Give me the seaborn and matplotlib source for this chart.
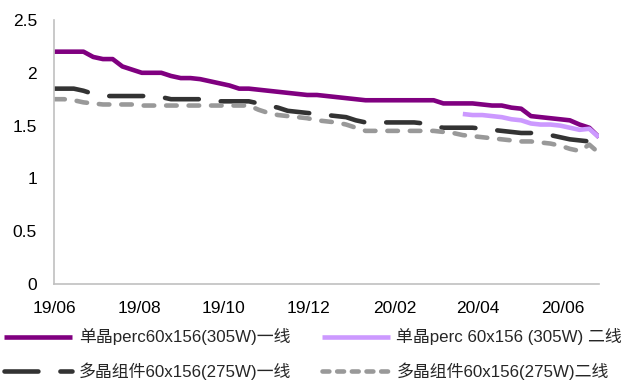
import numpy as np
import pandas as pd
import matplotlib
matplotlib.use("Agg")
import matplotlib.pyplot as plt
import matplotlib.dates as mdates
from matplotlib.lines import Line2D
from matplotlib.font_manager import FontProperties
import seaborn as sns

# Weekly module prices (RMB/W)
dates = pd.date_range("2019-06-05", periods=57, freq="7D")

mono_tier1 = [2.20, 2.20, 2.20, 2.20, 2.15, 2.13, 2.13, 2.06, 2.03, 2.00,
              2.00, 2.00, 1.97, 1.95, 1.95, 1.94, 1.92, 1.90, 1.88, 1.85,
              1.85, 1.84, 1.83, 1.82, 1.81, 1.80, 1.79, 1.79, 1.78, 1.77,
              1.76, 1.75, 1.74, 1.74, 1.74, 1.74, 1.74, 1.74, 1.74, 1.74,
              1.71, 1.71, 1.71, 1.71, 1.70, 1.69, 1.69, 1.67, 1.66, 1.59,
              1.58, 1.57, 1.56, 1.55, 1.51, 1.48, 1.39]

mono_tier2 = [np.nan] * 42 + [1.61, 1.60, 1.60, 1.59, 1.58, 1.56, 1.55, 1.52,
                              1.51, 1.51, 1.50, 1.48, 1.46, 1.47, 1.39]

poly_tier1 = [1.85, 1.85, 1.85, 1.83, 1.80, 1.78, 1.78, 1.78, 1.78, 1.78,
              1.78, 1.77, 1.75, 1.75, 1.75, 1.75, 1.74, 1.73, 1.73, 1.73,
              1.73, 1.71, 1.69, 1.67, 1.64, 1.63, 1.62, 1.61, 1.60, 1.59,
              1.58, 1.55, 1.53, 1.53, 1.53, 1.53, 1.53, 1.53, 1.52, 1.49,
              1.48, 1.48, 1.48, 1.48, 1.47, 1.46, 1.45, 1.44, 1.43, 1.43,
              1.42, 1.41, 1.39, 1.37, 1.36, 1.35, np.nan]

poly_tier2 = [1.75, 1.75, 1.74, 1.72, 1.71, 1.70, 1.70, 1.70, 1.70, 1.69,
              1.69, 1.69, 1.69, 1.69, 1.69, 1.69, 1.69, 1.69, 1.69, 1.69,
              1.69, 1.65, 1.62, 1.60, 1.59, 1.58, 1.57, 1.55, 1.54, 1.53,
              1.51, 1.48, 1.45, 1.45, 1.45, 1.45, 1.45, 1.45, 1.45, 1.45,
              1.44, 1.43, 1.41, 1.40, 1.39, 1.38, 1.37, 1.36, 1.35, 1.35,
              1.34, 1.33, 1.31, 1.28, 1.26, 1.32, 1.24]

series_labels = ["单晶perc60x156(305W)一线", "单晶perc 60x156 (305W) 二线",
                 "多晶组件60x156(275W)一线", "多晶组件60x156(275W)二线"]

y_ticks = [0, 0.5, 1, 1.5, 2, 2.5]
y_tick_labels = ["0", "0.5", "1", "1.5", "2", "2.5"]
x_tick_dates = pd.to_datetime(["2019-06-05", "2019-08-05", "2019-10-05", "2019-12-05",
                               "2020-02-05", "2020-04-05", "2020-06-05"])

sns.set_style("white")
plt.rcParams["font.family"] = ["Liberation Sans", "Noto Sans CJK SC"]

W, H = 627, 381
fig = plt.figure(figsize=(W / 100, H / 100), dpi=100)
ax = fig.add_axes([54.3 / W, (H - 284) / H, (599 - 54.3) / W, (284 - 20) / H])

lw = 3.3
styles = [
    dict(color="#800080", linestyle="-", solid_capstyle="butt"),
    dict(color="#CC99FF", linestyle="-", solid_capstyle="butt"),
    dict(color="#333333", linestyle=(0, (7.4, 4.8)), dash_capstyle="round"),
    dict(color="#999999", linestyle=(0, (2.3, 2.6)), dash_capstyle="round"),
]
all_series = [mono_tier1, mono_tier2, poly_tier1, poly_tier2]

df = pd.DataFrame({"date": dates})
for name, vals in zip(series_labels, all_series):
    df[name] = vals

for name, st in zip(series_labels, styles):
    sub = df[["date", name]].dropna()
    sns.lineplot(data=sub, x="date", y=name, ax=ax, linewidth=lw,
                 estimator=None, legend=False, **st)

ax.set_xlim(dates[0], dates[-1])
ax.set_ylim(0, 2.5)
ax.set_yticks(y_ticks)
ax.set_yticklabels(y_tick_labels)
ax.set_xticks(x_tick_dates)
ax.xaxis.set_major_formatter(mdates.DateFormatter("%y/%m"))
ax.set_xlabel("")
ax.set_ylabel("")

for side in ["top", "right"]:
    ax.spines[side].set_visible(False)
for side in ["left", "bottom"]:
    ax.spines[side].set_color("#c0c0c0")
    ax.spines[side].set_linewidth(1.2)

ax.tick_params(axis="both", direction="in", length=4.5, width=1.2,
               color="#c0c0c0", labelsize=12.5, labelcolor="black")
ax.tick_params(axis="y", pad=12.5)
ax.tick_params(axis="x", pad=12)
ax.grid(False)

# Legend handles (the short-dash style is drawn tighter in the legend)
handles = [
    Line2D([], [], color="#800080", lw=lw, solid_capstyle="butt"),
    Line2D([], [], color="#CC99FF", lw=lw, solid_capstyle="butt"),
    Line2D([], [], color="#333333", lw=lw, linestyle=(0, (7.4, 4.8)), dash_capstyle="round"),
    Line2D([], [], color="#999999", lw=lw, linestyle=(0, (1.5, 1.7)), dash_capstyle="round"),
]
order = [0, 2, 1, 3]
leg_font = FontProperties(family=["Liberation Sans", "Noto Sans CJK SC"], size=12.2)
fig.legend([handles[i] for i in order], [series_labels[i] for i in order],
           ncol=2, loc="upper left", bbox_to_anchor=(-4 / W, 1 - 320 / H),
           frameon=False, prop=leg_font, borderpad=0, handlelength=4.0,
           handletextpad=0.4, columnspacing=1.8, labelspacing=1.0)

fig.savefig("out.png", dpi=100)
